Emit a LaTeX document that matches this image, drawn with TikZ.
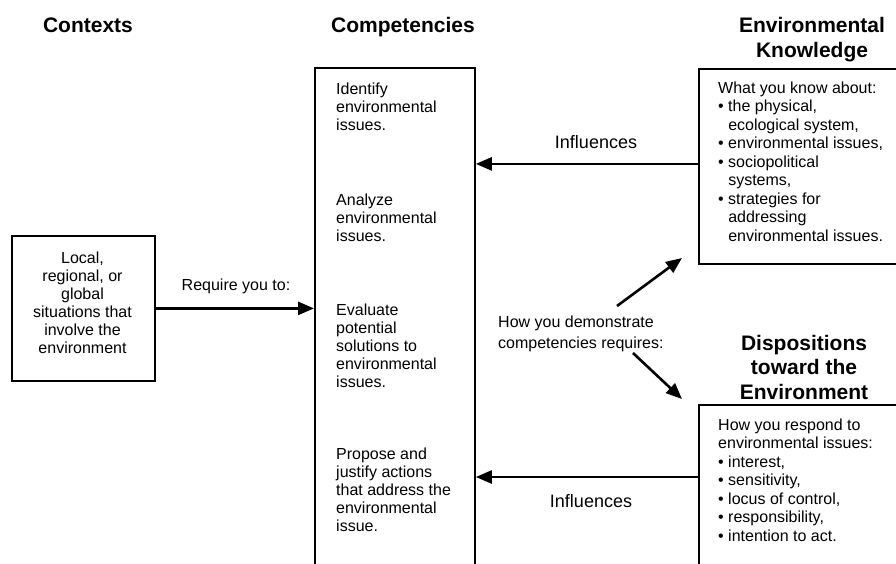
\documentclass[tikz,border=0pt]{standalone}
\usepackage{fontspec}
\setmainfont{Liberation Sans}
\usetikzlibrary{arrows.meta}
\begin{document}
\begin{tikzpicture}[x=1pt,y=-1pt,
 box/.style={draw, line width=1.8pt, inner sep=0pt, anchor=north west},
 body/.style={inner sep=0pt, align=left, anchor=base west, font=\fontsize{16}{18}\selectfont},
 bodyk/.style={body, font=\fontsize{16}{18.5}\selectfont},
 ctxtext/.style={inner sep=0pt, align=center, anchor=base, font=\fontsize{16}{18}\selectfont},
 title/.style={inner sep=0pt, align=center, anchor=base, font=\fontsize{21}{24.5}\selectfont\bfseries},
 lbl/.style={inner sep=0pt, anchor=base, font=\fontsize{16}{18}\selectfont},
 inflbl/.style={lbl, font=\fontsize{18}{20}\selectfont},
 arr/.style={line width=2.6pt, -{Triangle[length=16pt,width=13pt]}}]
\clip (0,0) rectangle (896,564);
% boxes
\node[box, minimum width=143pt, minimum height=145pt] (ctx) at (11,235) {};
\node[box, minimum width=160pt, minimum height=540pt] (comp) at (314,67) {};
\node[box, minimum width=260pt, minimum height=195pt] (ek) at (698,68) {};
\node[box, minimum width=260pt, minimum height=200pt] (disp) at (698,404) {};
% titles (anchor = baseline of last line)
\node[title] (tctx) at (88,33) {Contexts};
\node[title] (tcomp) at (403,33) {Competencies};
\node[title] (tek) at (812,57.5) {Environmental\\Knowledge};
\node[title] (tdisp) at (804,399) {Dispositions\\toward the\\Environment};
% contexts text
\node[ctxtext] (ctxt) at (82.5,353) {Local,\\regional, or\\global\\situations that\\involve the\\environment};
% competencies
\node[body] (c1) at (336,131) {Identify\\environmental\\issues.};
\node[body] (c2) at (336,241) {Analyze\\environmental\\issues.};
\node[body] (c3) at (336,387) {Evaluate\\potential\\solutions to\\environmental\\issues.};
\node[body] (c4) at (336,531) {Propose and\\justify actions\\that address the\\environmental\\issue.};
% knowledge
\node[bodyk] (ekt) at (718,241) {What you know about:\\
\textbullet\ the physical,\\
\phantom{\textbullet\ }ecological system,\\
\textbullet\ environmental issues,\\
\textbullet\ sociopolitical\\
\phantom{\textbullet\ }systems,\\
\textbullet\ strategies for\\
\phantom{\textbullet\ }addressing\\
\phantom{\textbullet\ }environmental issues.};
% dispositions
\node[bodyk] (dt) at (718,541) {How you respond to\\
environmental issues:\\
\textbullet\ interest,\\
\textbullet\ sensitivity,\\
\textbullet\ locus of control,\\
\textbullet\ responsibility,\\
\textbullet\ intention to act.};
% labels
\node[lbl] (req) at (236,290) {Require you to:};
\node[inflbl] (inf1) at (596,149) {Influences};
\node[inflbl] (inf2) at (591,507) {Influences};
\node[body, font=\fontsize{16}{21}\selectfont] (demo) at (498,348) {How you demonstrate\\competencies requires:};
% arrows
\draw[arr] (ctx.east) -- (ctx.east -| comp.west);
\draw[arr] ([yshift=2.5pt]ek.west) -- ([yshift=2.5pt]ek.west -| comp.east);
\draw[arr] ([yshift=-73pt]disp.north west) -- ([yshift=-73pt]disp.north west -| comp.east);
\coordinate (up1) at (617,306);
\coordinate (up2) at (682,258);
\coordinate (dn1) at (633,353);
\coordinate (dn2) at (682,399);
\draw[arr] (up1) -- (up2);
\draw[arr] (dn1) -- (dn2);
\end{tikzpicture}
\end{document}
